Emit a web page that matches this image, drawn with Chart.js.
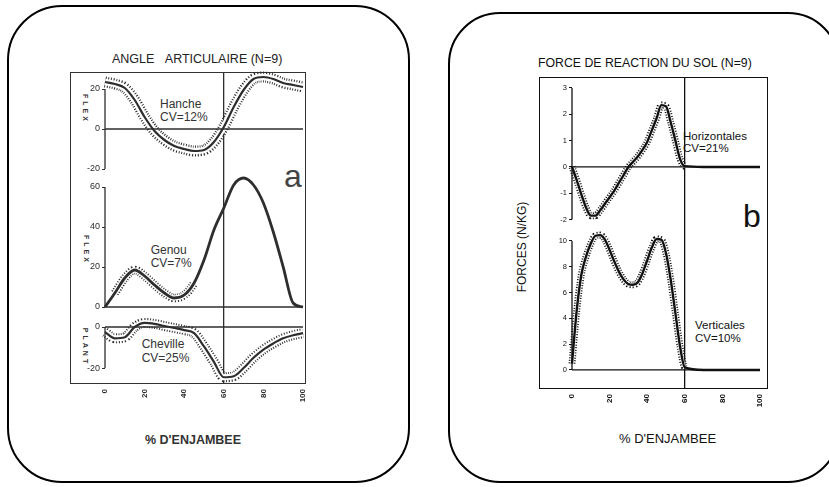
<!DOCTYPE html>
<html lang="fr">
<head>
<meta charset="utf-8">
<title>Angle articulaire et force de reaction du sol</title>
<script src="https://cdn.jsdelivr.net/npm/chart.js@4.4.1/dist/chart.umd.min.js"></script>
<style>
  html, body { margin: 0; padding: 0; background: #fff; }
  body { width: 829px; height: 487px; position: relative; overflow: hidden; font-family: "Liberation Sans", Arial, sans-serif; }
  .box { position: absolute; box-sizing: border-box; border: 2.5px solid #000; }
  .frame { position: absolute; box-sizing: border-box; }
  .txt { position: absolute; white-space: nowrap; line-height: 1; }
  .rot { position: absolute; white-space: nowrap; line-height: 1; transform: translate(-50%, -50%) rotate(90deg); }
  canvas { position: absolute; top: 0; }
</style>
</head>
<body>
<!-- cadres arrondis -->
<div class="box" style="left:7px;top:5px;width:403px;height:478px;border-radius:55px;"></div>
<div class="box" style="left:448px;top:12px;width:392px;height:471px;border-radius:52px;"></div>
<!-- cadres des graphes -->
<div class="frame" style="left:70px;top:72px;width:236px;height:312px;border:1.5px solid #333;"></div>
<div class="frame" style="left:539px;top:77px;width:229px;height:312px;border:1.5px solid #111;"></div>

<!-- textes a -->
<div class="txt" style="left:112px;top:53px;font-size:12.5px;color:#222;">ANGLE&nbsp;&nbsp;&nbsp;ARTICULAIRE (N=9)</div>
<div class="txt" style="left:160px;top:97.6px;font-size:12px;line-height:13px;color:#333;">Hanche<br>CV=12%</div>
<div class="txt" style="left:150.7px;top:243.6px;font-size:12px;line-height:13px;color:#333;">Genou<br>CV=7%</div>
<div class="txt" style="left:141.7px;top:337px;font-size:12px;line-height:14px;color:#333;">Cheville<br>CV=25%</div>
<div class="rot" style="left:85px;top:109px;font-size:7px;font-weight:bold;letter-spacing:3px;color:#333;">FLEX</div>
<div class="rot" style="left:86px;top:250px;font-size:7px;font-weight:bold;letter-spacing:3px;color:#333;">FLEX</div>
<div class="rot" style="left:85px;top:347px;font-size:7px;font-weight:bold;letter-spacing:3px;color:#333;">PLANT</div>
<div class="txt" style="left:284px;top:160px;font-size:32px;color:#444;">a</div>
<div class="txt" style="left:145px;top:434px;font-size:12.5px;font-weight:bold;color:#333;">% D'ENJAMBEE</div>

<!-- textes b -->
<div class="txt" style="left:538px;top:56.5px;font-size:12.3px;color:#111;">FORCE DE REACTION DU SOL (N=9)</div>
<div class="txt" style="left:683px;top:129.6px;font-size:11.5px;line-height:12.5px;color:#111;">Horizontales<br>CV=21%</div>
<div class="txt" style="left:695px;top:318.9px;font-size:11.5px;line-height:13.5px;color:#111;">Verticales<br>CV=10%</div>
<div class="txt" style="left:522px;top:246.5px;font-size:12px;color:#111;transform:translate(-50%,-50%) rotate(-90deg);">FORCES (N/KG)</div>
<div class="txt" style="left:743px;top:200px;font-size:32px;color:#111;">b</div>
<div class="txt" style="left:619px;top:431.6px;font-size:13px;color:#111;">% D'ENJAMBEE</div>

<canvas id="graphAngle" width="415" height="487" style="left:0px"></canvas>
<canvas id="graphSol" width="399" height="487" style="left:430px"></canvas>

<script>
// --- valeurs ---
var pct      = [0, 5, 10, 15, 20, 25, 30, 35, 40, 45, 50, 55, 60, 65, 70, 75, 80, 85, 90, 95, 100]
var hanche   = [23.5, 22.5, 20.5, 14.5, 6, -1, -5.5, -8.5, -10, -11, -10.5, -6.5, 1, 11, 19.5, 25, 26, 25, 23, 22, 21]
var genou    = [0, 7, 14.5, 18.5, 15.5, 11, 7, 4.5, 6, 12, 23.5, 38.5, 49.5, 61, 64.5, 61, 52, 37.5, 20, 2, 0]
var cheville = [-2.5, -5.5, -5, 0, 2, 1.5, 0.5, -0.5, -1.5, -3, -9.5, -17, -24.5, -24, -20, -15, -11, -8, -5.5, -4, -3]

var pctSol       = [0, 2.5, 5, 7.5, 10, 12.5, 15, 17.5, 20, 22.5, 25, 27.5, 30, 32.5, 35, 37.5, 40, 42.5, 45, 47.5, 50, 52.5, 55, 57.5, 60, 70, 80, 90, 100]
var horizontales = [0, -0.5, -1.05, -1.55, -1.85, -1.85, -1.65, -1.4, -1.15, -0.9, -0.6, -0.3, 0, 0.2, 0.4, 0.65, 0.95, 1.4, 1.85, 2.35, 2.3, 1.7, 1, 0.3, 0.03, 0, 0, 0, 0]
var verticales   = [0.5, 4.6, 7.4, 8.8, 9.8, 10.4, 10.45, 10.1, 9.3, 8.4, 7.6, 7, 6.65, 6.6, 6.8, 7.5, 8.5, 9.5, 10.15, 10.1, 9.05, 7, 4.4, 1.8, 0.2, 0, 0, 0, 0]

var ticksPct      = [0, 20, 40, 60, 80, 100]
var ticksHanche   = [-20, 0, 20]
var ticksGenou    = [0, 20, 40, 60]
var ticksCheville = [-20, 0]
var ticksHoriz    = [-2, -1, 0, 1, 2, 3]
var ticksVert     = [0, 2, 4, 6, 8, 10]
var decollement   = 60   // fin d'appui (trait vertical)

/*------------------------------*/
/*     outils                   */
/*------------------------------*/
function pts(xs, ys) {
  return xs.map(function (x, i) { return {x: x, y: ys[i]} })
}

// courbe moyenne + bande pointillee (trait large pointille, trait blanc, trait plein)
function courbe(xs, ys, axe, encre, largeurs, zone) {
  var dansZone = function (c) {
    return !zone || (c.p0.parsed.x >= zone[0] && c.p1.parsed.x <= zone[1])
  }
  var base = {data: pts(xs, ys), yAxisID: axe, pointRadius: 0, fill: false,
              cubicInterpolationMode: 'monotone', clip: false}
  return [
    Object.assign({}, base, {borderColor: encre, borderWidth: largeurs[0], borderDash: [1, 1.6], order: 4,
      segment: {borderColor: function (c) { return dansZone(c) ? encre : 'transparent' }}}),
    Object.assign({}, base, {borderColor: '#fff', borderWidth: largeurs[1], order: 3,
      segment: {borderColor: function (c) { return dansZone(c) ? '#fff' : 'transparent' }}}),
    Object.assign({}, base, {borderColor: encre, borderWidth: largeurs[2], order: 1})
  ]
}

function trait(a, b, axe, encre) {
  return {data: [a, b], yAxisID: axe, borderColor: encre, borderWidth: 1.3,
          pointRadius: 0, order: 2, clip: false}
}

// axe vertical (trait de l'axe) + ligne du zero pour un sous-graphe
function reperes(xs, ticks, axe, encre) {
  var x0 = xs[0], x1 = xs[xs.length - 1]
  return [
    trait({x: x0, y: ticks[0]}, {x: x0, y: ticks[ticks.length - 1]}, axe, encre),
    trait({x: x0, y: 0}, {x: x1, y: 0}, axe, encre)
  ]
}

function axeY(min, max, poids, ticks, encre, taille) {
  return {
    type: 'linear', position: 'left', stack: 'g', stackWeight: poids, min: min, max: max,
    afterBuildTicks: function (a) { a.ticks = ticks.map(function (v) { return {value: v} }) },
    afterFit: function (a) { a.width = 35 },
    border: {display: false},
    grid: {drawOnChartArea: false, drawTicks: true, tickLength: 3, color: encre, lineWidth: 1},
    ticks: {color: encre, padding: 2, font: {family: 'Liberation Sans', size: taille}}
  }
}

function axeX(encre) {
  return {
    type: 'linear', min: 0, max: 100,
    afterBuildTicks: function (a) { a.ticks = ticksPct.map(function (v) { return {value: v} }) },
    afterFit: function (a) { a.height = 30 },
    border: {display: false},
    grid: {
      color: function (c) { return c.tick && c.tick.value === decollement ? encre : 'transparent' },
      lineWidth: 1.3, drawTicks: false
    },
    ticks: {color: encre, minRotation: 90, maxRotation: 90, padding: 6, autoSkip: false,
            font: {family: 'Liberation Sans', size: 8, weight: 'bold'}}
  }
}

function optionsCommunes(padding, scales) {
  return {
    responsive: false, animation: false, devicePixelRatio: 1, events: [],
    layout: {padding: padding},
    plugins: {legend: {display: false}, tooltip: {enabled: false}},
    scales: scales
  }
}

/*------------------------------*/
/*     GRAPHIQUE a ANGLES       */
/*------------------------------*/
var encreA = '#2e2e2e'
var ctx_angle = document.getElementById('graphAngle').getContext('2d')
var data_angle = {
  datasets: [].concat(
    reperes(pct, ticksHanche, 'yH', encreA),
    reperes(pct, ticksGenou, 'yG', encreA),
    reperes(pct, ticksCheville, 'yC', encreA),
    courbe(pct, hanche, 'yH', encreA, [11, 6.5, 2.2]),
    courbe(pct, genou, 'yG', encreA, [8.5, 5, 2.8], [5, 45]),
    courbe(pct, cheville, 'yC', encreA, [10, 6, 2.2])
  )
}
var graph_angle = new Chart(ctx_angle, {
  type: 'line',
  data: data_angle,
  options: optionsCommunes({left: 70, right: 112, top: 73, bottom: 74}, {
    x: axeX(encreA),
    yC: axeY(-27.3, 5.37, 67, ticksCheville, encreA, 9),
    yG: axeY(-4.5, 66, 141, ticksGenou, encreA, 9),
    yH: axeY(-23, 28, 102, ticksHanche, encreA, 9)
  })
})

/*------------------------------*/
/*     GRAPHIQUE b FORCES       */
/*------------------------------*/
var encreB = '#111'
var ctx_sol = document.getElementById('graphSol').getContext('2d')
var data_sol = {
  datasets: [].concat(
    reperes(pctSol, ticksHoriz, 'yHz', encreB),
    reperes(pctSol, ticksVert, 'yVt', encreB),
    courbe(pctSol, horizontales, 'yHz', encreB, [7, 3.5, 2.4], [0, decollement]),
    courbe(pctSol, verticales, 'yVt', encreB, [7, 3.5, 2.4], [0, decollement])
  )
}
var graph_sol = new Chart(ctx_sol, {
  type: 'line',
  data: data_sol,
  options: optionsCommunes({left: 107, right: 69, top: 78, bottom: 69}, {
    x: axeX(encreB),
    yVt: axeY(-1.4, 11.0, 160, ticksVert, encreB, 7.5),
    yHz: axeY(-2.32, 3.38, 150, ticksHoriz, encreB, 7.5)
  })
})
</script>
</body>
</html>
